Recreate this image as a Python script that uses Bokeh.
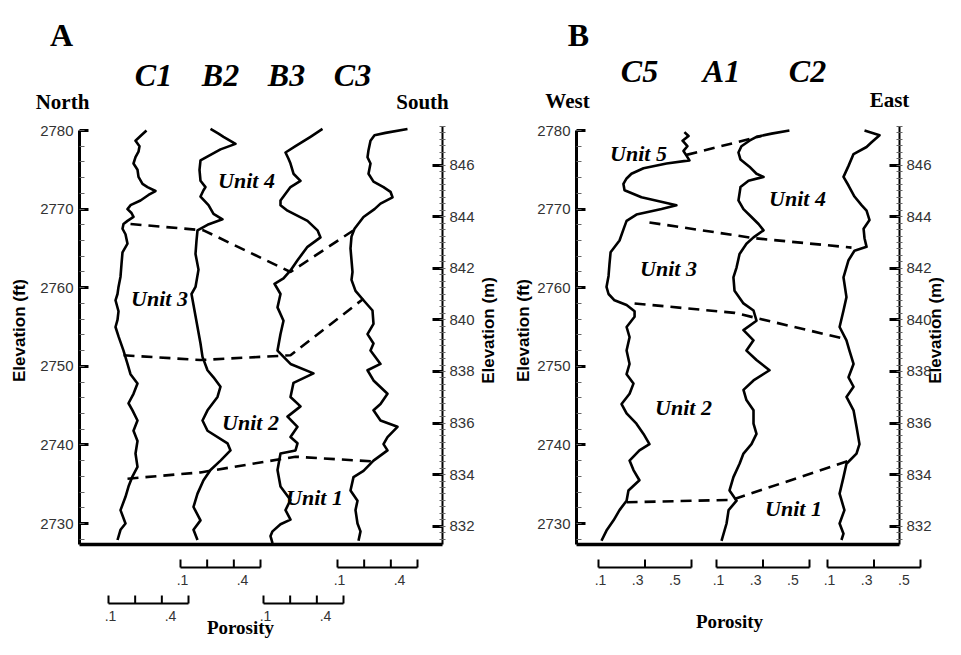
import numpy as np
from bokeh.plotting import figure
from bokeh.models import LinearAxis, Range1d, SingleIntervalTicker, FixedTicker
from bokeh.core.properties import value
from bokeh.embed import file_html
from bokeh.resources import INLINE

# ---------------- DATA (elevation ft, porosity) ----------------
C1_LOG = [(2780.0, 0.290), (2779.3, 0.260), (2778.7, 0.235), (2778.0, 0.255), (2777.3, 0.250),
          (2776.6, 0.235), (2775.8, 0.225), (2775.0, 0.245), (2774.1, 0.250), (2773.2, 0.270),
          (2772.8, 0.295), (2772.3, 0.335), (2771.8, 0.300), (2771.1, 0.260), (2770.5, 0.210),
          (2770.0, 0.195), (2769.5, 0.215), (2769.0, 0.225), (2768.5, 0.195), (2768.1, 0.175),
          (2767.5, 0.170), (2766.8, 0.185), (2765.6, 0.195), (2764.5, 0.170), (2763.0, 0.165),
          (2761.4, 0.160), (2760.1, 0.150), (2759.2, 0.145), (2758.4, 0.135), (2757.0, 0.150),
          (2755.9, 0.145), (2755.0, 0.135), (2753.8, 0.150), (2752.0, 0.175), (2750.3, 0.195),
          (2749.0, 0.210), (2747.8, 0.245), (2746.5, 0.225), (2745.3, 0.200), (2744.4, 0.220),
          (2743.1, 0.245), (2741.8, 0.225), (2740.5, 0.245), (2738.9, 0.235), (2737.2, 0.245),
          (2736.0, 0.220), (2734.7, 0.200), (2733.4, 0.185), (2731.7, 0.160), (2730.0, 0.185),
          (2729.2, 0.160), (2727.9, 0.145)]
B2_LOG = [(2780.2, 0.250), (2779.6, 0.290), (2779.2, 0.315), (2778.3, 0.375), (2777.6, 0.300),
          (2776.2, 0.200), (2775.0, 0.195), (2773.6, 0.200), (2772.8, 0.225), (2772.4, 0.215),
          (2771.6, 0.200), (2770.5, 0.240), (2769.4, 0.265), (2768.7, 0.310), (2768.0, 0.235),
          (2767.3, 0.185), (2766.0, 0.180), (2764.3, 0.175), (2762.3, 0.190), (2760.1, 0.175),
          (2759.2, 0.155), (2757.1, 0.170), (2755.0, 0.185), (2752.9, 0.200), (2751.2, 0.210),
          (2749.5, 0.235), (2748.6, 0.265), (2747.4, 0.300), (2746.1, 0.285), (2744.4, 0.235),
          (2743.1, 0.210), (2741.8, 0.235), (2740.2, 0.335), (2739.3, 0.350), (2738.0, 0.300),
          (2736.8, 0.250), (2735.5, 0.215), (2733.8, 0.185), (2732.1, 0.165), (2730.4, 0.200),
          (2729.2, 0.165), (2727.9, 0.185)]
B3_LOG = [(2780.2, 0.395), (2779.2, 0.335), (2778.0, 0.260), (2777.2, 0.210), (2776.4, 0.225),
          (2775.8, 0.235), (2774.5, 0.250), (2773.6, 0.285), (2772.8, 0.235), (2771.1, 0.185),
          (2770.5, 0.185), (2769.8, 0.220), (2768.5, 0.320), (2767.3, 0.370), (2766.4, 0.385),
          (2765.2, 0.320), (2763.5, 0.270), (2762.2, 0.235), (2761.2, 0.200), (2760.5, 0.155),
          (2759.2, 0.185), (2757.5, 0.170), (2755.8, 0.200), (2754.1, 0.185), (2752.0, 0.170),
          (2750.3, 0.235), (2749.1, 0.350), (2747.9, 0.250), (2746.1, 0.235), (2744.9, 0.285),
          (2743.6, 0.220), (2742.3, 0.270), (2741.0, 0.235), (2740.2, 0.270), (2739.3, 0.260),
          (2738.9, 0.185), (2736.8, 0.170), (2734.7, 0.185), (2733.0, 0.235), (2731.7, 0.210),
          (2730.5, 0.235), (2729.9, 0.185), (2729.0, 0.145), (2728.4, 0.135), (2727.5, 0.145)]
C3_LOG = [(2780.2, 0.450), (2779.7, 0.340), (2779.4, 0.285), (2778.7, 0.265), (2777.5, 0.255),
          (2776.6, 0.250), (2775.8, 0.265), (2774.5, 0.255), (2773.5, 0.280), (2772.8, 0.330),
          (2772.2, 0.365), (2771.5, 0.375), (2770.7, 0.315), (2770.0, 0.285), (2769.0, 0.230),
          (2767.5, 0.185), (2766.5, 0.170), (2765.0, 0.165), (2763.5, 0.170), (2762.0, 0.175),
          (2761.0, 0.170), (2759.6, 0.190), (2758.4, 0.230), (2757.1, 0.275), (2755.4, 0.280),
          (2754.1, 0.250), (2752.9, 0.280), (2752.0, 0.265), (2750.3, 0.315), (2749.5, 0.250),
          (2748.2, 0.280), (2746.5, 0.350), (2745.2, 0.315), (2744.4, 0.280), (2743.1, 0.315),
          (2742.3, 0.400), (2741.0, 0.350), (2740.1, 0.330), (2739.3, 0.350), (2738.0, 0.280),
          (2736.7, 0.230), (2735.9, 0.180), (2734.2, 0.165), (2732.9, 0.200), (2731.7, 0.190),
          (2730.0, 0.200), (2729.0, 0.215), (2727.8, 0.205)]
C5_LOG = [(2779.8, 0.562), (2779.3, 0.584), (2778.7, 0.552), (2778.0, 0.578), (2777.4, 0.557),
          (2776.8, 0.573), (2776.2, 0.589), (2775.8, 0.466), (2775.2, 0.342), (2774.5, 0.277),
          (2773.9, 0.251), (2773.2, 0.234), (2772.4, 0.240), (2771.5, 0.331), (2770.5, 0.519),
          (2770.0, 0.439), (2769.3, 0.304), (2768.5, 0.251), (2767.8, 0.240), (2766.0, 0.213),
          (2764.5, 0.165), (2763.0, 0.159), (2761.5, 0.154), (2760.1, 0.143), (2759.2, 0.154),
          (2758.4, 0.186), (2757.8, 0.251), (2757.0, 0.294), (2756.3, 0.294), (2755.0, 0.251),
          (2753.7, 0.267), (2752.0, 0.251), (2750.3, 0.267), (2749.0, 0.251), (2747.8, 0.288),
          (2746.5, 0.267), (2745.2, 0.224), (2744.0, 0.251), (2742.7, 0.304), (2741.4, 0.342),
          (2740.1, 0.374), (2739.3, 0.320), (2738.0, 0.267), (2736.8, 0.288), (2735.5, 0.320),
          (2734.2, 0.261), (2732.9, 0.251), (2731.7, 0.213), (2730.4, 0.181), (2729.1, 0.143),
          (2727.8, 0.116)]
A1_LOG = [(2780.0, 0.492), (2779.6, 0.396), (2779.2, 0.315), (2778.7, 0.277), (2778.0, 0.234),
          (2777.2, 0.218), (2776.3, 0.229), (2775.4, 0.277), (2774.5, 0.315), (2774.1, 0.353),
          (2773.6, 0.272), (2772.8, 0.229), (2771.1, 0.218), (2770.0, 0.245), (2769.0, 0.288),
          (2768.1, 0.326), (2767.3, 0.353), (2766.4, 0.299), (2765.6, 0.261), (2764.3, 0.224),
          (2762.6, 0.208), (2761.3, 0.191), (2759.6, 0.197), (2758.0, 0.245), (2757.1, 0.299),
          (2755.8, 0.315), (2754.6, 0.245), (2753.3, 0.299), (2752.0, 0.261), (2750.8, 0.315),
          (2749.5, 0.385), (2748.2, 0.299), (2747.0, 0.245), (2745.7, 0.261), (2744.4, 0.299),
          (2742.7, 0.299), (2741.4, 0.315), (2740.1, 0.288), (2738.9, 0.245), (2737.6, 0.224),
          (2735.9, 0.191), (2734.2, 0.170), (2732.9, 0.208), (2731.7, 0.165), (2730.0, 0.154),
          (2727.8, 0.127)]
C2_LOG = [(2780.0, 0.299), (2779.4, 0.380), (2778.5, 0.337), (2777.9, 0.310), (2777.0, 0.240),
          (2775.5, 0.213), (2774.1, 0.186), (2773.0, 0.213), (2771.6, 0.245), (2770.5, 0.283),
          (2769.8, 0.310), (2768.6, 0.326), (2767.5, 0.294), (2766.3, 0.299), (2765.2, 0.310),
          (2764.7, 0.245), (2763.5, 0.213), (2761.3, 0.186), (2758.8, 0.202), (2757.1, 0.186),
          (2755.0, 0.165), (2753.3, 0.202), (2752.0, 0.218), (2750.3, 0.240), (2748.6, 0.213),
          (2747.4, 0.240), (2746.1, 0.202), (2744.4, 0.240), (2742.3, 0.256), (2740.1, 0.272),
          (2738.9, 0.256), (2737.6, 0.202), (2735.9, 0.186), (2733.8, 0.165), (2731.7, 0.191),
          (2730.0, 0.165), (2728.7, 0.186), (2727.9, 0.175)]

WELLS_A = ["C1", "B2", "B3", "C3"]
WELLS_B = ["C5", "A1", "C2"]
LOGS = {"C1": C1_LOG, "B2": B2_LOG, "B3": B3_LOG, "C3": C3_LOG,
        "C5": C5_LOG, "A1": A1_LOG, "C2": C2_LOG}

# unit boundaries (well, elevation ft, porosity where the line meets the log)
BOUNDARIES_A = [
    [("C1", 2768.1, 0.210), ("B2", 2767.3, 0.215), ("B3", 2762.0, 0.235), ("C3", 2767.3, 0.180)],
    [("C1", 2751.4, 0.175), ("B2", 2750.8, 0.200), ("B3", 2751.4, 0.235), ("C3", 2758.6, 0.230)],
    [("C1", 2735.7, 0.195), ("B2", 2736.5, 0.200), ("B3", 2738.5, 0.260), ("C3", 2737.9, 0.275)],
]
BOUNDARIES_B = [
    [("C5", 2776.9, 0.573), ("A1", 2779.3, 0.342)],
    [("C5", 2768.3, 0.374), ("A1", 2766.3, 0.304), ("C2", 2765.1, 0.229)],
    [("C5", 2758.0, 0.294), ("A1", 2756.8, 0.197), ("C2", 2753.5, 0.191)],
    [("C5", 2732.7, 0.251), ("A1", 2733.0, 0.181), ("C2", 2738.0, 0.218)],
]
UNITS_A = ["Unit 4", "Unit 3", "Unit 2", "Unit 1"]
UNITS_B = ["Unit 5", "Unit 4", "Unit 3", "Unit 2", "Unit 1"]

SCALE_TICKS_A = [0.1, 0.2333, 0.3667, 0.5]
SCALE_LABELS_A = [".1", ".4"]
SCALE_LABEL_VALUES_A = [0.1, 0.4]
SCALE_TICKS_B = [0.1, 0.35, 0.6]
SCALE_LABELS_B = [".1", ".3", ".5"]
SCALE_LABEL_VALUES_B = [0.1, 0.3, 0.5]

FT_TICK_INTERVAL = 10
M_TICK_INTERVAL = 2
FT_PER_M = 3.28084

# ---------------- LAYOUT ----------------
W, H = 945, 639
PX_PER_FT = 7.86
BS = -14  # horizontal shift of panel B so that it fits the canvas


def elev(ypx):
    """picture pixel row -> elevation (ft)"""
    return 2780 - (ypx - 130) / PX_PER_FT


Y_TOP, Y_BOT = elev(0), elev(H)
AX_BOT = elev(544)
AX_TOP_M = 847.5

# track: (x of porosity 0.1, pixels per porosity unit)
TRACKS = {"C1": (108, 200), "B2": (180, 200), "B3": (263, 200), "C3": (337, 200),
          "C5": (612 + BS, 186), "A1": (730 + BS, 186), "C2": (841 + BS, 186)}
PANEL_A = (79, 442)
PANEL_B = (590 + BS, 913 + BS)


def tx(well, phi):
    o, s = TRACKS[well]
    return o + (np.asarray(phi, dtype=float) - 0.1) * s


p = figure(width=W, height=H, x_range=Range1d(0, W), y_range=Range1d(Y_BOT, Y_TOP),
           x_axis_type=None, y_axis_type=None, toolbar_location=None,
           output_backend="svg", min_border=0)
p.extra_y_ranges = {"m": Range1d(Y_BOT / FT_PER_M, Y_TOP / FT_PER_M)}
p.outline_line_color = None
p.xgrid.visible = False
p.ygrid.visible = False
p.background_fill_color = "white"
p.border_fill_color = "white"


def add_yaxis(loc, side, rng, bounds, interval, nminor, lw, tin, minor_in, minor_out, standoff):
    ax = LinearAxis(fixed_location=loc, bounds=bounds,
                    ticker=SingleIntervalTicker(interval=interval, num_minor_ticks=nminor))
    if rng:
        ax.y_range_name = rng
    ax.axis_line_width = lw
    ax.axis_line_color = "black"
    ax.major_tick_in = tin
    ax.major_tick_out = 0
    ax.major_tick_line_width = 3
    ax.minor_tick_in = minor_in
    ax.minor_tick_out = minor_out
    ax.minor_tick_line_width = 1
    ax.minor_tick_line_color = "#666666"
    ax.major_label_text_font = "Liberation Sans"
    ax.major_label_text_font_size = "15px"
    ax.major_label_text_color = "#333333"
    ax.major_label_standoff = standoff
    p.add_layout(ax, side)


for (xl, xr) in (PANEL_A, PANEL_B):
    add_yaxis(xl, "left", None, (AX_BOT, 2780), FT_TICK_INTERVAL, 5, 3, 9, 5, 0, 6)
    add_yaxis(xr, "right", "m", (AX_BOT / FT_PER_M, AX_TOP_M), M_TICK_INTERVAL, 8, 2, 10, 3, 3, 4)
    bx = LinearAxis(fixed_location=AX_BOT, bounds=(xl, xr), ticker=FixedTicker(ticks=[]))
    bx.axis_line_width = 3.5
    bx.major_tick_line_color = None
    bx.minor_tick_line_color = None
    bx.major_label_text_font_size = "0px"
    p.add_layout(bx, "below")

# well logs
for w in WELLS_A + WELLS_B:
    e, phi = zip(*LOGS[w])
    p.line(tx(w, phi), list(e), line_color="black", line_width=2.6, line_join="round")

# correlation lines
for b in BOUNDARIES_A + BOUNDARIES_B:
    xs = [float(tx(w, ph)) for (w, el, ph) in b]
    ys = [el for (w, el, ph) in b]
    p.line(xs, ys, line_color="black", line_width=2.6, line_dash="11 7")

serif = value("Liberation Serif")
sans = value("Liberation Sans")


def label(xs, ys_px, texts, font, style, size, color="black", angle=0.0, align="center"):
    p.text(x=list(xs), y=[elev(y) for y in ys_px], text=texts, text_font=font,
           text_font_style=style, text_font_size=size, text_color=color,
           text_align=align, text_baseline="middle", angle=angle)


def bx_(xs):
    return [x + BS for x in xs]


# panel letters, well names, directions
label([61, 592 + BS], [34, 34], ["A", "B"], serif, "bold", "32px")
label([153, 220, 286, 352], [74, 74, 74, 74], WELLS_A, serif, "bold italic", "32px")
label(bx_([653, 735, 821]), [70, 70, 70], WELLS_B, serif, "bold italic", "32px")
label([62, 422] + bx_([581, 903]), [101, 101, 100, 99], ["North", "South", "West", "East"],
      serif, "bold", "21px")

# axis titles
label([19, 488, 537 + BS, 935], [330, 330, 330, 330],
      ["Elevation (ft)", "Elevation (m)", "Elevation (ft)", "Elevation (m)"],
      sans, "bold", "17px", angle=np.pi / 2)

# unit labels
label([246, 159, 250, 314], [180, 298, 422, 497], UNITS_A, serif, "bold italic", "22px")
label(bx_([652, 811, 682, 697, 807]), [153, 198, 268, 407, 508], UNITS_B, serif,
      "bold italic", "22px")

# porosity scale bars
SCALE_ROW_A = {"C1": 603, "B2": 567, "B3": 603, "C3": 567}
SCALE_ROW_B = {"C5": 567, "A1": 567, "C2": 567}


def scale_bar(well, row_y, ticks, labels, label_vals):
    x = tx(well, ticks)
    yb = elev(row_y)
    p.segment(x0=[x[0]], y0=[yb], x1=[x[-1]], y1=[yb], line_color="black", line_width=2)
    p.segment(x0=list(x), y0=[yb] * len(x), x1=list(x), y1=[elev(row_y - 8)] * len(x),
              line_color="black", line_width=2)
    label(list(tx(well, label_vals) + 2), [row_y + 12] * len(labels), labels, sans,
          "normal", "14px", color="#333333")


for w in WELLS_A:
    scale_bar(w, SCALE_ROW_A[w], SCALE_TICKS_A, SCALE_LABELS_A, SCALE_LABEL_VALUES_A)
for w in WELLS_B:
    scale_bar(w, SCALE_ROW_B[w], SCALE_TICKS_B, SCALE_LABELS_B, SCALE_LABEL_VALUES_B)

label([240, 743 + BS], [627, 621], ["Porosity", "Porosity"], serif, "bold", "19px")

open("out.html", "w").write(file_html(p, INLINE))
